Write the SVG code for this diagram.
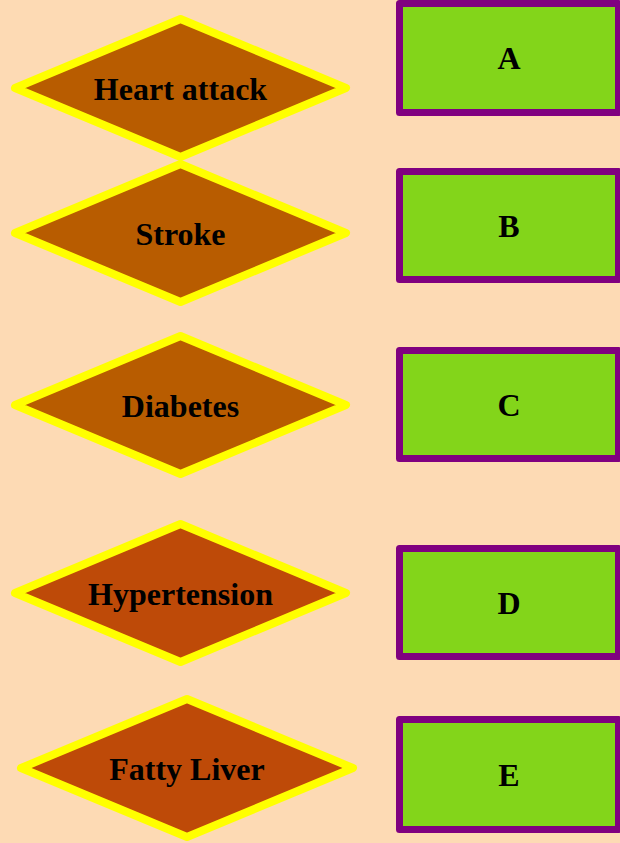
<svg xmlns="http://www.w3.org/2000/svg" width="620" height="843" viewBox="0 0 620 843">
<style>
.dia{stroke:#ffff00;stroke-width:8;stroke-linejoin:round}
.d1{fill:#b85c00}
.d2{fill:#be4a08}
.box{fill:#83d51a;stroke:#800080;stroke-width:7;stroke-linejoin:round}
text{font-family:"Liberation Serif","Times New Roman",serif;font-weight:bold;font-size:32px;fill:#000;text-anchor:middle}
</style>
<rect x="0" y="0" width="620" height="843" fill="#fddab4"/>
<g id="connectors"></g>
<g id="heart-attack"><polygon class="dia d1" points="15,88 180.5,19 346,88 180.5,157"/><text x="180.5" y="99.5">Heart attack</text></g>
<g id="stroke"><polygon class="dia d1" points="15,233 180.5,164 346,233 180.5,302"/><text x="180.5" y="245">Stroke</text></g>
<g id="diabetes"><polygon class="dia d1" points="15,405 180.5,336 346,405 180.5,474"/><text x="180.5" y="417">Diabetes</text></g>
<g id="hypertension"><polygon class="dia d2" points="15,593 180.5,524 346,593 180.5,662"/><text x="180.5" y="605">Hypertension</text></g>
<g id="fatty-liver"><polygon class="dia d2" points="21,768 187,699 353,768 187,837"/><text x="187" y="780">Fatty Liver</text></g>
<g id="A"><rect class="box" x="399.5" y="3.5" width="219" height="109"/><text x="509" y="69">A</text></g>
<g id="B"><rect class="box" x="399.5" y="171.5" width="219" height="108"/><text x="509" y="237">B</text></g>
<g id="C"><rect class="box" x="399.5" y="350.5" width="219" height="108"/><text x="509" y="416">C</text></g>
<g id="D"><rect class="box" x="399.5" y="548.5" width="219" height="108"/><text x="509" y="614">D</text></g>
<g id="E"><rect class="box" x="399.5" y="719.5" width="219" height="110"/><text x="509" y="786">E</text></g>
</svg>
